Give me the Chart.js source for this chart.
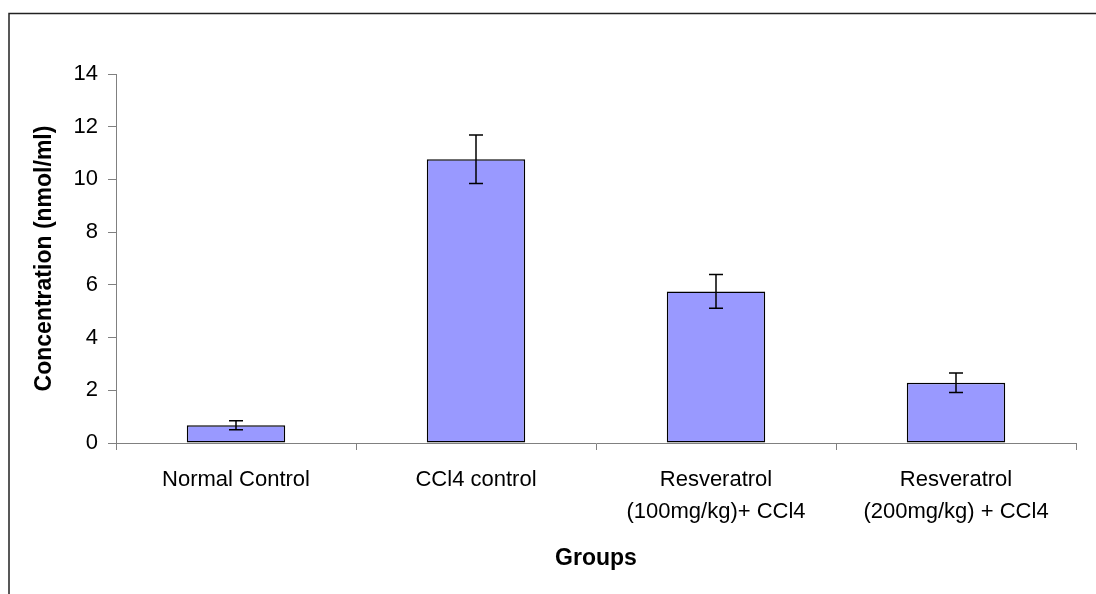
<!DOCTYPE html>
<html>
<head>
<meta charset="utf-8">
<script src="https://cdn.jsdelivr.net/npm/chart.js@4.4.1/dist/chart.umd.min.js"></script>
<style>
  html, body { margin: 0; padding: 0; background: #fff; }
  #wrap { width: 1096px; height: 594px; position: relative; }
</style>
</head>
<body>
<div id="wrap"><canvas id="chart"></canvas></div>
<script>
// values
const groups = [
  'Normal Control',
  'CCl4 control',
  ['Resveratrol', '(100mg/kg)+ CCl4'],
  ['Resveratrol', '(200mg/kg) + CCl4']
];
const concentration = [0.67, 10.77, 5.75, 2.29];
const errorSD = [0.17, 0.92, 0.64, 0.37];
const yTicks = [0, 2, 4, 6, 8, 10, 12, 14];

Chart.defaults.font.family = "'Liberation Sans', Arial, sans-serif";
Chart.defaults.color = '#000';

// outer frame like the Excel chart area border
const framePlugin = {
  id: 'frame',
  beforeDraw(chart) {
    const c = chart.ctx;
    c.save();
    c.fillStyle = '#fff';
    c.fillRect(0, 0, chart.width, chart.height);
    c.strokeStyle = '#222';
    c.lineWidth = 1.5;
    c.beginPath();
    c.moveTo(9, chart.height + 2);
    c.lineTo(9, 13.5);
    c.lineTo(chart.width + 2, 13.5);
    c.stroke();
    c.restore();

    // the y title is drawn a bit stretched in the original
    const ys = chart.scales.y;
    if (ys && !ys._spaced) {
      const orig = ys._drawTitle;
      ys._drawTitle = function () {
        this.ctx.save();
        this.ctx.letterSpacing = '3px';
        orig.call(this);
        this.ctx.restore();
      };
      ys._spaced = true;
    }
  }
};

const errorBars = {
  id: 'errorBars',
  afterDatasetsDraw(chart) {
    const c = chart.ctx;
    const y = chart.scales.y;
    const meta = chart.getDatasetMeta(0);
    c.save();
    c.strokeStyle = '#000';
    c.lineWidth = 1.5;
    meta.data.forEach((bar, i) => {
      const v = concentration[i], e = errorSD[i];
      const top = y.getPixelForValue(v + e);
      const bot = y.getPixelForValue(v - e);
      const x = bar.x;
      c.beginPath();
      c.moveTo(x, top); c.lineTo(x, bot);
      c.moveTo(x - 7, top); c.lineTo(x + 7, top);
      c.moveTo(x - 7, bot); c.lineTo(x + 7, bot);
      c.stroke();
    });
    c.restore();
  }
};

const ctx = document.getElementById('chart').getContext('2d');
const chart = new Chart(ctx, {
  type: 'bar',
  data: {
    labels: groups,
    datasets: [{
      data: concentration,
      backgroundColor: '#9999FF',
      borderColor: '#000',
      borderWidth: 1.5,
      borderSkipped: false,
      barPercentage: 0.82,
      categoryPercentage: 0.5
    }]
  },
  options: {
    responsive: true,
    maintainAspectRatio: false,
    animation: false,
    layout: { padding: { left: 0, top: 74, right: 20, bottom: 0 } },
    plugins: {
      legend: { display: false },
      tooltip: { enabled: false }
    },
    scales: {
      x: {
        offset: true,
        grid: { display: true, drawOnChartArea: false, offset: true, tickLength: 7, color: '#808080' },
        border: { color: '#808080', width: 1 },
        ticks: { color: '#000', font: { size: 22, lineHeight: 1.45 }, padding: 14, maxRotation: 0, autoSkip: false },
        title: {
          display: true,
          text: 'Groups',
          color: '#000',
          font: { size: 23, weight: 'bold' },
          padding: { top: 4, bottom: 22 }
        },
        afterFit: s => { s.height = 151; }
      },
      y: {
        min: 0,
        max: 14,
        afterBuildTicks: s => { s.ticks = yTicks.map(v => ({ value: v })); },
        grid: { display: true, drawOnChartArea: false, tickLength: 8, color: '#808080' },
        border: { color: '#808080', width: 1 },
        ticks: { color: '#000', font: { size: 22 }, padding: 10 },
        title: {
          display: true,
          text: 'Concentration (nmol/ml)',
          color: '#000',
          font: { size: 23, weight: 'bold' },
          padding: { top: 31, bottom: 4 }
        },
        afterFit: s => { s.width = 116; }
      }
    }
  },
  plugins: [framePlugin, errorBars]
});
</script>
</body>
</html>
